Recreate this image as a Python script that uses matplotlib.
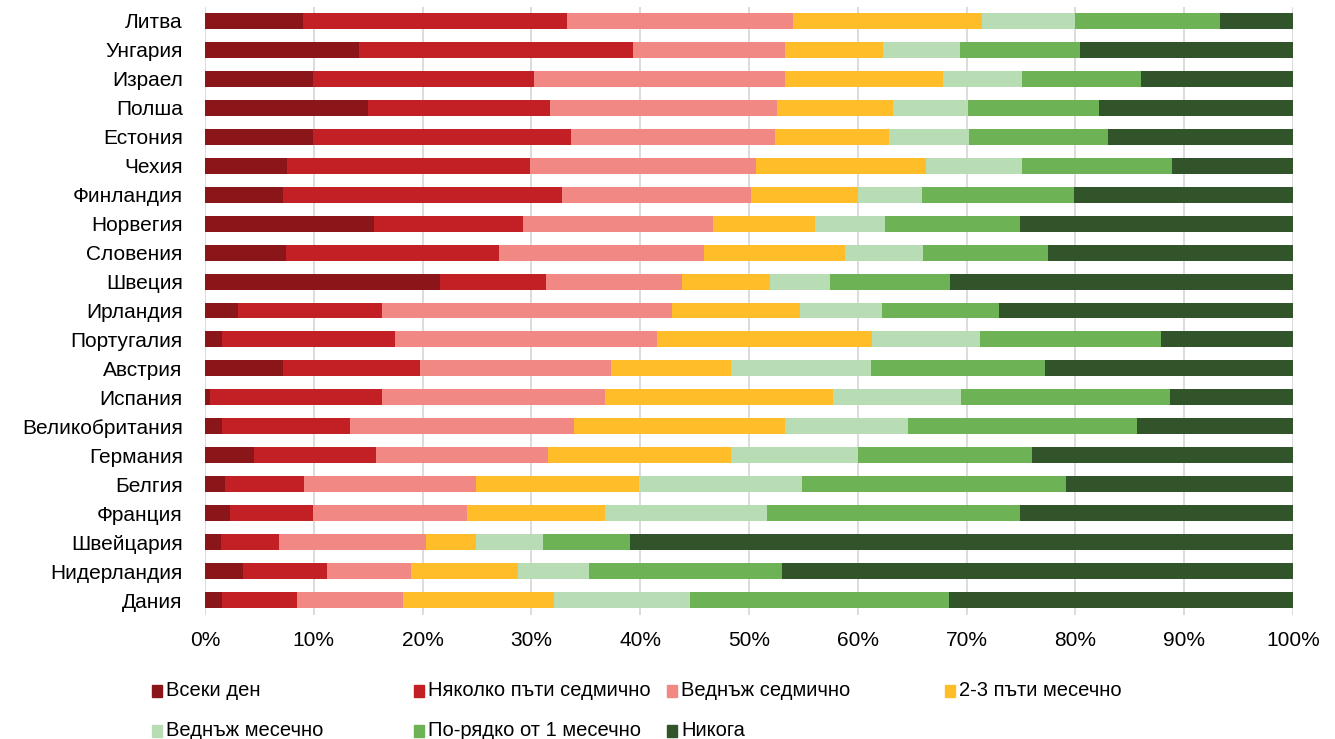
import numpy as np
import matplotlib.pyplot as plt
from matplotlib.patches import Rectangle

plt.rcParams['font.family'] = ['Liberation Sans', 'DejaVu Sans']

# countries, top to bottom
countries = ['Литва', 'Унгария', 'Израел', 'Полша', 'Естония', 'Чехия', 'Финландия',
             'Норвегия', 'Словения', 'Швеция', 'Ирландия', 'Португалия', 'Австрия',
             'Испания', 'Великобритания', 'Германия', 'Белгия', 'Франция',
             'Швейцария', 'Нидерландия', 'Дания']

categories = ['Всеки ден', 'Няколко пъти седмично', 'Веднъж седмично', '2-3 пъти месечно',
              'Веднъж месечно', 'По-рядко от 1 месечно', 'Никога']

# shares in % per category (same order as countries)
every_day = [9.0, 14.2, 9.9, 15.0, 9.9, 7.5, 7.2, 15.5, 7.4, 21.6, 3.0,
             1.6, 7.2, 0.5, 1.6, 4.5, 1.8, 2.3, 1.5, 3.5, 1.6]
few_weekly = [24.3, 25.1, 20.3, 16.7, 23.7, 22.4, 25.6, 13.7, 19.6, 9.7, 13.3,
              15.9, 12.6, 15.8, 11.7, 11.2, 7.3, 7.6, 5.3, 7.7, 6.9]
once_weekly = [20.7, 14.0, 23.1, 20.9, 18.8, 20.7, 17.4, 17.5, 18.9, 12.5, 26.6,
               24.0, 17.5, 20.5, 20.6, 15.8, 15.8, 14.2, 13.5, 7.7, 9.7]
two_three_monthly = [17.4, 9.0, 14.5, 10.6, 10.5, 15.7, 9.8, 9.4, 12.9, 8.1, 11.8,
                     19.8, 11.0, 20.9, 19.4, 16.8, 15.0, 12.7, 4.6, 9.9, 13.9]
once_monthly = [8.6, 7.1, 7.3, 6.9, 7.3, 8.8, 5.9, 6.4, 7.2, 5.5, 7.5,
                9.9, 12.9, 11.8, 11.3, 11.7, 15.0, 14.9, 6.2, 6.5, 12.5]
less_monthly = [13.3, 11.0, 10.9, 12.1, 12.8, 13.8, 14.0, 12.4, 11.5, 11.1, 10.8,
                16.7, 16.0, 19.2, 21.1, 16.0, 24.2, 23.2, 8.0, 17.7, 23.8]
never = [6.7, 19.6, 14.0, 17.8, 17.0, 11.1, 20.1, 25.1, 22.5, 31.5, 27.0,
         12.1, 22.8, 11.3, 14.3, 24.0, 20.9, 25.1, 60.9, 47.0, 31.6]

colors = ['#8B1619', '#C32026', '#F28884', '#FFBD2A', '#B8DDB5', '#6DB356', '#32542A']

series = [every_day, few_weekly, once_weekly, two_three_monthly,
          once_monthly, less_monthly, never]

fig = plt.figure(figsize=(13.35, 7.39), dpi=100)
ax = fig.add_axes([205 / 1335, 1 - 614.5 / 739, 1088 / 1335, 608 / 739])

y = np.arange(len(countries))
left = np.zeros(len(countries))
for vals, col in zip(series, colors):
    vals = np.array(vals)
    ax.barh(y, vals, left=left, height=0.55, color=col, zorder=3)
    left += vals

ax.set_xlim(0, 100)
ax.set_ylim(len(countries) - 0.5, -0.5)
ax.set_yticks(y)
ax.set_yticklabels(countries, fontsize=15)
ax.set_xticks(np.arange(0, 101, 10))
ax.set_xticklabels([f'{v}%' for v in range(0, 101, 10)], fontsize=15)
ax.tick_params(length=0)
ax.tick_params(axis='y', pad=16)
ax.tick_params(axis='x', pad=12)
ax.grid(axis='x', color='#D9D9D9', linewidth=1.3, zorder=0)
for s in ax.spines.values():
    s.set_visible(False)

# legend, laid out like the original
leg_x = [152, 414, 667, 945, 152, 414, 667]
leg_y = [691, 691, 691, 691, 731, 731, 731]
for lab, col, lx, ly in zip(categories, colors, leg_x, leg_y):
    fig.patches.append(Rectangle((lx / 1335, 1 - (ly + 6) / 739), 10 / 1335, 12 / 739,
                                 transform=fig.transFigure, color=col))
    fig.text((lx + 14) / 1335, 1 - ly / 739, lab, fontsize=14.5, va='center', ha='left')

fig.savefig('out.png', dpi=100)
